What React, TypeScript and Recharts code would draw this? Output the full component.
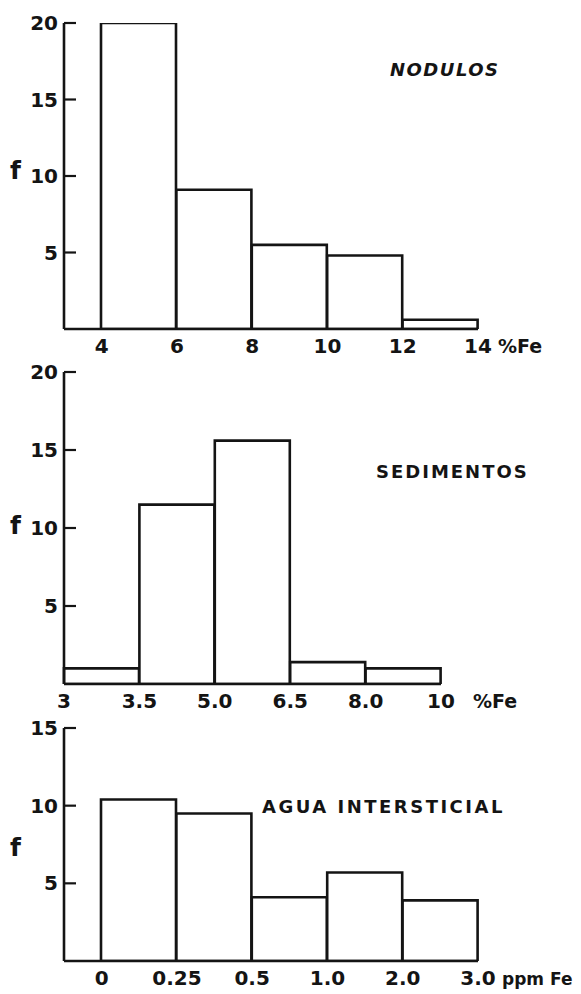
import React from 'react';
import { BarChart, Bar, XAxis, YAxis } from 'recharts';

// ---- data ----
const nodBins = ['4-6', '6-8', '8-10', '10-12', '12-14'];
const nodFreq = [20, 9.1, 5.5, 4.8, 0.6];
const nodEdgeLabels = ['4', '6', '8', '10', '12', '14'];

const sedBins = ['3-3.5', '3.5-5.0', '5.0-6.5', '6.5-8.0', '8.0-10'];
const sedFreq = [1.0, 11.5, 15.6, 1.4, 1.0];
const sedEdgeLabels = ['3', '3.5', '5.0', '6.5', '8.0', '10'];

const aguaBins = ['0-0.25', '0.25-0.5', '0.5-1.0', '1.0-2.0', '2.0-3.0'];
const aguaFreq = [10.4, 9.5, 4.1, 5.7, 3.9];
const aguaEdgeLabels = ['0', '0.25', '0.5', '1.0', '2.0', '3.0'];

const fTicks20 = [5, 10, 15, 20];
const fTicks15 = [5, 10, 15];
const edgeTicks = [0, 1, 2, 3, 4, 5];

const FONT = '"DejaVu Sans", "Liberation Sans", sans-serif';
const INK = '#141414';

type PanelProps = {
  bins: string[];
  freq: number[];
  edgeLabels: string[];
  unit: string;
  unitDx: number;
  unitSize: number;
  yMax: number;
  yTicks: number[];
  edgeMin: number;
  top: number;
  plotHeight: number;
  padLeft: number;
  marginRight: number;
};

function Panel(p: PanelProps) {
  const data = p.bins.map((b, i) => ({ bin: b, f: p.freq[i], idx: i }));
  const mTop = 23;
  const xH = 36;
  const renderTick = (props: any) => {
    const { x, y, payload } = props;
    const i = Math.round(payload.value);
    const label = p.edgeLabels[i];
    const last = i === p.edgeLabels.length - 1;
    return (
      <g>
        <text
          x={x}
          y={y + 16}
          textAnchor="middle"
          fill={INK}
          fontSize={20}
          fontWeight="bold"
          fontFamily={FONT}
        >
          {label}
        </text>
        {last ? (
          <text
            x={x + p.unitDx}
            y={y + 16}
            textAnchor="start"
            fill={INK}
            fontSize={p.unitSize}
            fontWeight="bold"
            fontFamily={FONT}
          >
            {p.unit}
          </text>
        ) : null}
      </g>
    );
  };
  return (
    <div style={{ position: 'absolute', left: 0, top: p.top - mTop }}>
      <BarChart
        width={581}
        height={mTop + p.plotHeight + xH}
        data={data}
        margin={{ top: mTop, right: p.marginRight, bottom: 0, left: 0 }}
        barCategoryGap={0}
        barGap={0}
      >
        <XAxis
          xAxisId="bin"
          dataKey="bin"
          type="category"
          hide
          height={0}
          padding={{ left: p.padLeft, right: 0 }}
        />
        <XAxis
          xAxisId="edge"
          dataKey="idx"
          type="number"
          domain={[p.edgeMin, 5]}
          ticks={edgeTicks}
          interval={0}
          allowDataOverflow
          height={xH}
          axisLine={{ stroke: INK, strokeWidth: 2.6 }}
          tickLine={false}
          tick={renderTick}
        />
        <YAxis
          type="number"
          domain={[0, p.yMax]}
          ticks={p.yTicks}
          interval={0}
          allowDataOverflow
          width={64}
          axisLine={{ stroke: INK, strokeWidth: 2.6 }}
          tickSize={-12}
          tickMargin={18}
          tickLine={{ stroke: INK, strokeWidth: 2.2 }}
          tick={{ fill: INK, fontSize: 20, fontWeight: 'bold', fontFamily: FONT }}
        />
        <Bar
          xAxisId="bin"
          dataKey="f"
          fill="#ffffff"
          stroke={INK}
          strokeWidth={2.6}
          isAnimationActive={false}
        />
      </BarChart>
    </div>
  );
}

const textStyle: React.CSSProperties = {
  position: 'absolute',
  fontFamily: FONT,
  fontWeight: 'bold',
  color: INK,
  whiteSpace: 'nowrap',
  lineHeight: 1,
};

export default function App() {
  return (
    <div style={{ position: 'absolute', left: 0, top: 0, width: 581, height: 994, background: '#fff', overflow: 'hidden' }}>
      <Panel
        bins={nodBins}
        freq={nodFreq}
        edgeLabels={nodEdgeLabels}
        unit="%Fe"
        unitDx={20}
        unitSize={19}
        yMax={20}
        yTicks={fTicks20}
        edgeMin={-0.5}
        top={23}
        plotHeight={306}
        padLeft={37}
        marginRight={103}
      />
      <Panel
        bins={sedBins}
        freq={sedFreq}
        edgeLabels={sedEdgeLabels}
        unit="%Fe"
        unitDx={32}
        unitSize={19}
        yMax={20}
        yTicks={fTicks20}
        edgeMin={0}
        top={372}
        plotHeight={312}
        padLeft={0}
        marginRight={140}
      />
      <Panel
        bins={aguaBins}
        freq={aguaFreq}
        edgeLabels={aguaEdgeLabels}
        unit="ppm Fe"
        unitDx={24}
        unitSize={17}
        yMax={15}
        yTicks={fTicks15}
        edgeMin={-0.5}
        top={728}
        plotHeight={233}
        padLeft={37}
        marginRight={103}
      />
      <div style={{ ...textStyle, left: 390, top: 61, fontSize: 18, fontStyle: 'italic', letterSpacing: 1.5 }}>NODULOS</div>
      <div style={{ ...textStyle, left: 376, top: 463, fontSize: 18, letterSpacing: 2 }}>SEDIMENTOS</div>
      <div style={{ ...textStyle, left: 262, top: 798, fontSize: 18, letterSpacing: 2.5 }}>AGUA INTERSTICIAL</div>
      <div style={{ ...textStyle, left: 10, top: 158, fontSize: 25 }}>f</div>
      <div style={{ ...textStyle, left: 10, top: 513, fontSize: 25 }}>f</div>
      <div style={{ ...textStyle, left: 10, top: 835, fontSize: 25 }}>f</div>
    </div>
  );
}
